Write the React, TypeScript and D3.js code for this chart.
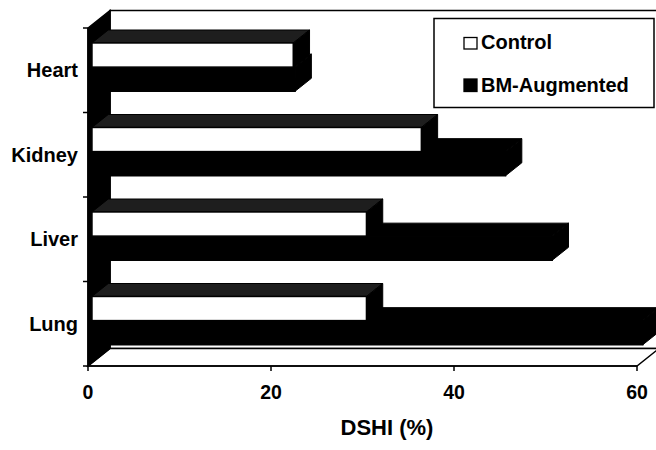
import React from "react";
import * as d3 from "d3";

const categories = ["Heart", "Kidney", "Liver", "Lung"];
const controlValues = [22, 36, 30, 30];
const bmValues = [22.2, 45.2, 50.3, 60.2];
const seriesNames = ["Control", "BM-Augmented"];
const xTicks = [0, 20, 40, 60];

const W = 656;
const H = 450;
const FONT = "'Liberation Sans', Arial, Helvetica, sans-serif";

export default function App() {
  const x = d3.scaleLinear().domain([0, 60]).range([88, 637]);
  const yCat = d3.scaleBand<string>().domain(categories).range([28, 366]).padding(0);
  const ySer = d3
    .scaleBand<string>()
    .domain(seriesNames)
    .range([0, yCat.bandwidth()])
    .paddingInner(0)
    .paddingOuter(0.75);

  // 3D depth vectors
  const DX = 22;
  const DY = -17.5;
  const f0 = 0.18;
  const f1 = 0.92;
  const ox0 = DX * f0, oy0 = DY * f0;
  const bdx = DX * (f1 - f0), bdy = DY * (f1 - f0);

  const yFloor = 366;
  const yTop = 28;

  const pts = (arr: number[][]) => arr.map((p) => p.join(",")).join(" ");

  type Bar = { cat: string; ser: string; v: number };
  const bars: Bar[] = [];
  for (let i = categories.length - 1; i >= 0; i--) {
    bars.push({ cat: categories[i], ser: seriesNames[1], v: bmValues[i] });
    bars.push({ cat: categories[i], ser: seriesNames[0], v: controlValues[i] });
  }

  const renderBar = (b: Bar, k: number) => {
    const yT = (yCat(b.cat) as number) + (ySer(b.ser) as number) + oy0;
    const yB = yT + ySer.bandwidth();
    const X0 = x(0) + ox0;
    const X1 = x(b.v) + ox0;
    const isCtrl = b.ser === "Control";
    const top = [
      [X0, yT],
      [X1, yT],
      [X1 + bdx, yT + bdy],
      [X0 + bdx, yT + bdy],
    ];
    const side = [
      [X1, yT],
      [X1 + bdx, yT + bdy],
      [X1 + bdx, yB + bdy],
      [X1, yB],
    ];
    return (
      <g key={k}>
        <polygon points={pts(top)} fill={isCtrl ? "#1e1e1e" : "#000"} stroke="#000" strokeWidth={1} />
        <polygon points={pts(side)} fill="#000" stroke="#000" strokeWidth={1} />
        <rect
          x={X0}
          y={yT}
          width={X1 - X0}
          height={yB - yT}
          fill={isCtrl ? "#fff" : "#000"}
          stroke="#000"
          strokeWidth={1.5}
        />
      </g>
    );
  };

  return (
    <svg
      width={W}
      height={H}
      viewBox={`0 0 ${W} ${H}`}
      style={{ position: "absolute", left: 0, top: 0, background: "#fff" }}
      fontFamily={FONT}
    >
      {/* back wall */}
      <rect
        x={x(0) + DX}
        y={yTop + DY}
        width={x(60) - x(0)}
        height={yFloor - yTop}
        fill="#fff"
        stroke="#000"
        strokeWidth={1.5}
      />
      {/* floor */}
      <polygon
        points={pts([
          [x(0), yFloor],
          [x(60), yFloor],
          [x(60) + DX, yFloor + DY],
          [x(0) + DX, yFloor + DY],
        ])}
        fill="#fff"
        stroke="#000"
        strokeWidth={1.5}
      />
      {/* left wall */}
      <polygon
        points={pts([
          [x(0), yTop],
          [x(0) + DX, yTop + DY],
          [x(0) + DX, yFloor + DY],
          [x(0), yFloor],
        ])}
        fill="#000"
        stroke="#000"
        strokeWidth={1.5}
      />

      {bars.map(renderBar)}

      {/* value axis */}
      <line x1={x(0)} x2={x(60)} y1={yFloor} y2={yFloor} stroke="#000" strokeWidth={1.5} />
      {xTicks.map((t) => (
        <g key={t}>
          <line x1={x(t)} x2={x(t)} y1={yFloor} y2={yFloor + 5} stroke="#000" strokeWidth={1.5} />
          <text
            x={x(t)}
            y={399}
            textAnchor="middle"
            fontSize={19.5}
            fontWeight="bold"
            fill="#000"
          >
            {t}
          </text>
        </g>
      ))}
      {/* category axis */}
      <line x1={x(0)} x2={x(0)} y1={yTop} y2={yFloor} stroke="#000" strokeWidth={1.5} />
      {[...categories.map((c) => yCat(c) as number), yFloor].map((yy, i) => (
        <line key={i} x1={x(0) - 5} x2={x(0)} y1={yy} y2={yy} stroke="#000" strokeWidth={1.5} />
      ))}
      {categories.map((c) => (
        <text
          key={c}
          x={78}
          y={(yCat(c) as number) + yCat.bandwidth() / 2 + 7}
          textAnchor="end"
          fontSize={20}
          fontWeight="bold"
          fill="#000"
        >
          {c}
        </text>
      ))}

      {/* axis title */}
      <text x={387} y={435} textAnchor="middle" fontSize={22} fontWeight="bold" fill="#000">
        DSHI (%)
      </text>

      {/* legend */}
      <g>
        <rect x={434} y={18.5} width={220} height={89} fill="#fff" stroke="#000" strokeWidth={1.5} />
        <rect x={464} y={37.5} width={13} height={11.5} fill="#fff" stroke="#000" strokeWidth={1.3} />
        <text x={481} y={48.5} fontSize={20} fontWeight="bold" fill="#000">
          {seriesNames[0]}
        </text>
        <rect x={464} y={79} width={13} height={12.5} fill="#000" stroke="#000" strokeWidth={1.3} />
        <text x={481} y={92} fontSize={20} fontWeight="bold" fill="#000">
          {seriesNames[1]}
        </text>
      </g>
    </svg>
  );
}
